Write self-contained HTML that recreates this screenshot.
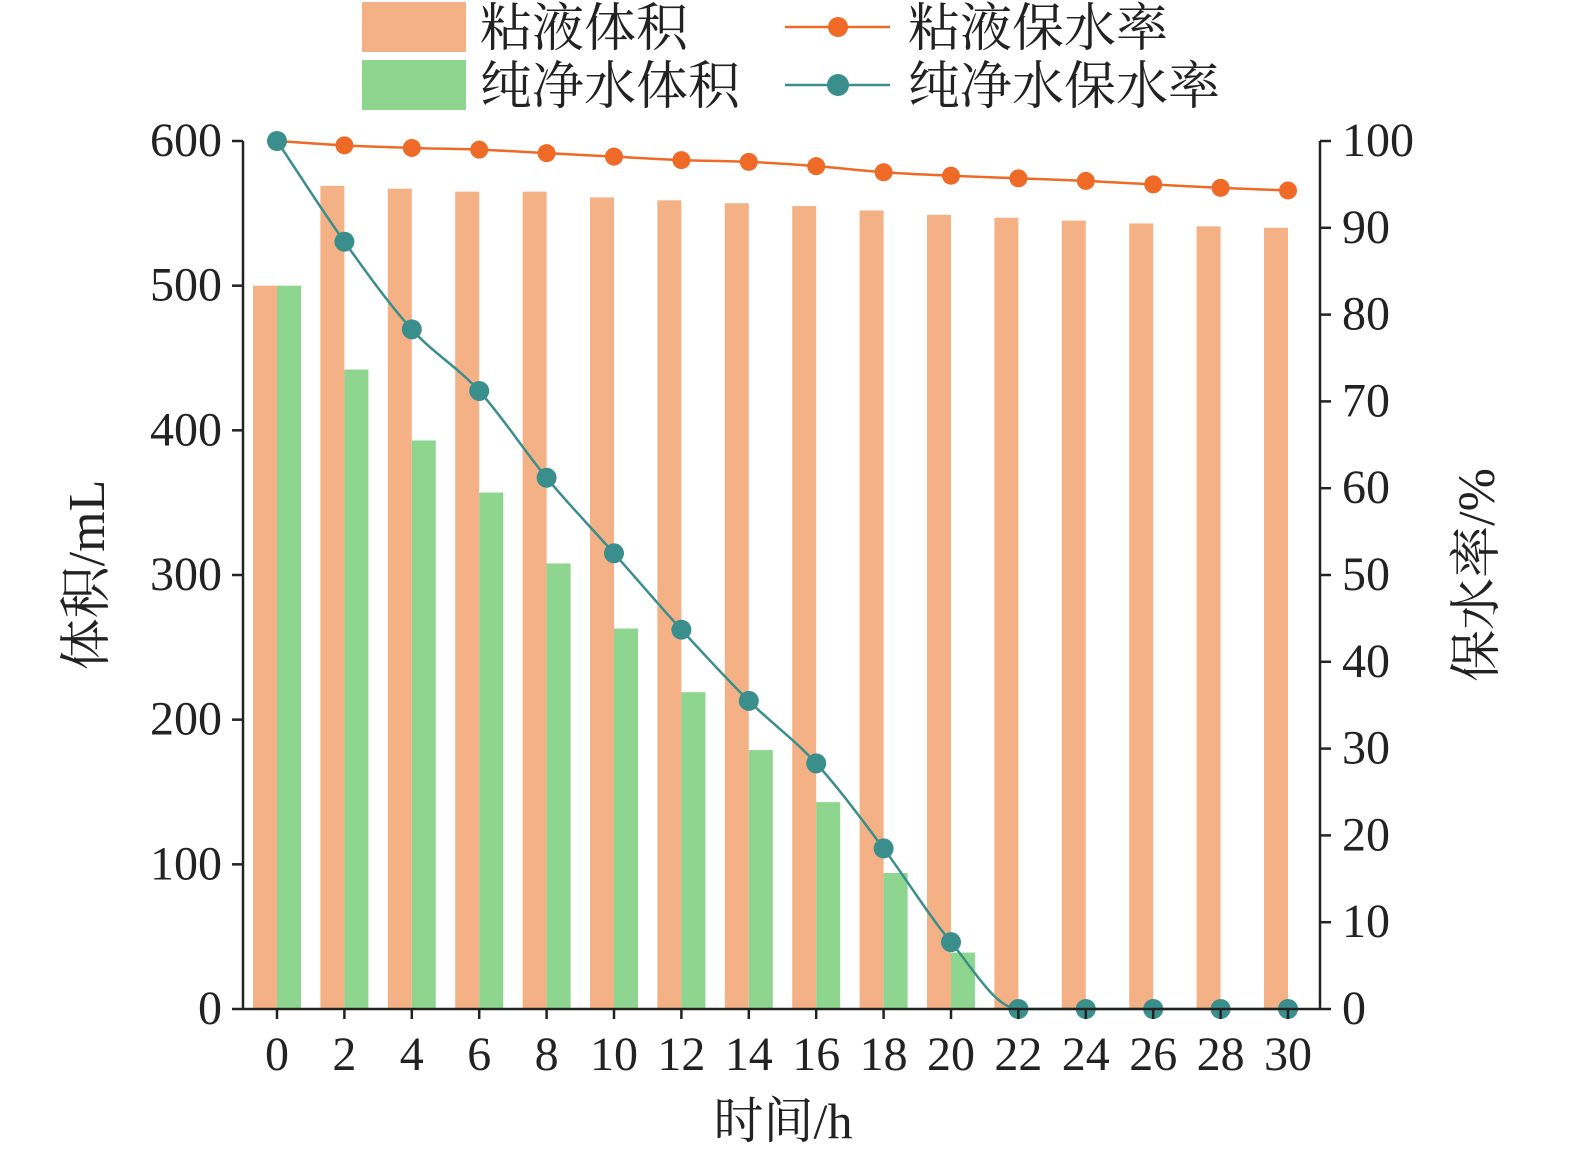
<!DOCTYPE html>
<html><head><meta charset="utf-8"><style>
html,body{margin:0;padding:0;background:#fff;overflow:hidden;width:1575px;height:1160px}
svg{display:block}
svg text{font-family:"Liberation Serif","Noto Serif CJK SC","Noto Sans CJK SC",serif;fill:#222}
</style></head><body>
<svg id="c" style="position:absolute;left:0;top:0" width="1575" height="1160" xmlns="http://www.w3.org/2000/svg"></svg>
<script>
const categories=[0,2,4,6,8,10,12,14,16,18,20,22,24,26,28,30];
const mucusVolume=[500,569,567,565,565,561,559,557,555,552,549,547,545,543,541,540];
const waterVolume=[500,442,393,357,308,263,219,179,143,94,39,0,0,0,0,0];
const mucusRate=[100,99.5,99.2,99.0,98.6,98.2,97.8,97.6,97.1,96.4,96.0,95.7,95.4,95.0,94.6,94.3];
const waterRate=[100,88.4,78.3,71.2,61.2,52.5,43.7,35.5,28.3,18.5,7.7,0,0,0,0,0];
const leftTicks=[0,100,200,300,400,500,600];
const rightTicks=[0,10,20,30,40,50,60,70,80,90,100];
const NS="http://www.w3.org/2000/svg",svg=document.getElementById('c');
const X0=243,X1=1320,Y0=1009,Y1=141;
const xS=i=>277+i*67.4;
const yL=v=>Y0-(v/600)*(Y0-Y1);
const yR=v=>Y0-(v/100)*(Y0-Y1);
function mk(t,a,p){const e=document.createElementNS(NS,t);for(const k in a)e.setAttribute(k,a[k]);(p||svg).appendChild(e);return e;}
const bw=24;
const gBars=mk('g',{});


categories.forEach((c,i)=>{
 const b1=mk('rect',{x:xS(i)-bw,y:yL(mucusVolume[i]),width:bw,height:Y0-yL(mucusVolume[i]),fill:'#F5B186'},gBars);
 
 
 const b2=mk('rect',{x:xS(i),y:yL(waterVolume[i]),width:bw,height:Y0-yL(waterVolume[i]),fill:'#8ED58F'},gBars);
 
 
});
function mono(pts){
 const n=pts.length,d=[],m=[];
 for(let i=0;i<n-1;i++)d.push((pts[i+1][1]-pts[i][1])/(pts[i+1][0]-pts[i][0]));
 m[0]=d[0];m[n-1]=d[n-2];
 for(let i=1;i<n-1;i++)m[i]=(d[i-1]*d[i]<=0)?0:(d[i-1]+d[i])/2;
 for(let i=0;i<n-1;i++){if(d[i]===0){m[i]=0;m[i+1]=0;continue;}const a=m[i]/d[i],b=m[i+1]/d[i],s=a*a+b*b;if(s>9){const t=3/Math.sqrt(s);m[i]=t*a*d[i];m[i+1]=t*b*d[i];}}
 let p=`M${pts[0][0]},${pts[0][1]}`;
 for(let i=0;i<n-1;i++){const h=(pts[i+1][0]-pts[i][0])/3;p+=` C${pts[i][0]+h},${pts[i][1]+m[i]*h} ${pts[i+1][0]-h},${pts[i+1][1]-m[i+1]*h} ${pts[i+1][0]},${pts[i+1][1]}`;}
 return p;
}
function series(vals,col,name){
 const pts=vals.map((v,i)=>[xS(i),yR(v)]);
 const l=mk('path',{d:mono(pts),fill:'none',stroke:col,'stroke-width':2.5});
 
 
 pts.forEach(p=>{const c=mk('circle',{cx:p[0],cy:p[1],r:name==='mucus-rate'?9:10,fill:col});
 
 });
}
series(mucusRate,'#EE6A26','mucus-rate');
series(waterRate,'#3A8F8C','water-rate');
mk('line',{x1:X0,y1:Y1,x2:X0,y2:Y0,stroke:'#222','stroke-width':2.5});
mk('line',{x1:X1,y1:Y1,x2:X1,y2:Y0,stroke:'#222','stroke-width':2.5});
mk('line',{x1:X0,y1:Y0,x2:X1,y2:Y0,stroke:'#222','stroke-width':2.5});
leftTicks.forEach(v=>{mk('line',{x1:X0-11,y1:yL(v),x2:X0,y2:yL(v),stroke:'#222','stroke-width':2.5});
 const t=mk('text',{x:222,y:yL(v)+15,'text-anchor':'end','font-size':48});t.textContent=v;
 
 });
rightTicks.forEach(v=>{mk('line',{x1:X1,y1:yR(v),x2:X1+11,y2:yR(v),stroke:'#222','stroke-width':2.5});
 const t=mk('text',{x:1342,y:yR(v)+15,'font-size':48});t.textContent=v;
 
 });
categories.forEach((c,i)=>{mk('line',{x1:xS(i),y1:Y0,x2:xS(i),y2:Y0+10,stroke:'#222','stroke-width':2.5});
 const t=mk('text',{x:xS(i),y:1070,'text-anchor':'middle','font-size':48});t.textContent=c;
 
 });
</script>
<svg style="position:absolute;left:0;top:0" width="1575" height="1160" xmlns="http://www.w3.org/2000/svg">
<text x="783" y="1138" text-anchor="middle" font-size="50">时间/h</text>
<text transform="translate(104,575) rotate(-90)" text-anchor="middle" font-size="52">体积/mL</text>
<text transform="translate(1494,575) rotate(-90)" text-anchor="middle" font-size="52">保水率/%</text>
<g>
<rect x="362" y="2" width="104" height="50" fill="#F5B186"/>
<text x="480" y="46" font-size="52">粘液体积</text>
<rect x="362" y="60" width="104" height="50" fill="#8ED58F"/>
<text x="480" y="104" font-size="52">纯净水体积</text>
<line x1="785" y1="27" x2="890" y2="27" stroke="#EE6A26" stroke-width="2.5"/>
<circle cx="838" cy="27" r="10" fill="#EE6A26"/>
<text x="908" y="46" font-size="52">粘液保水率</text>
<line x1="785" y1="85" x2="890" y2="85" stroke="#3A8F8C" stroke-width="2.5"/>
<circle cx="838" cy="85" r="11" fill="#3A8F8C"/>
<text x="908" y="104" font-size="52">纯净水保水率</text>
</g>
</svg>
</body></html>
